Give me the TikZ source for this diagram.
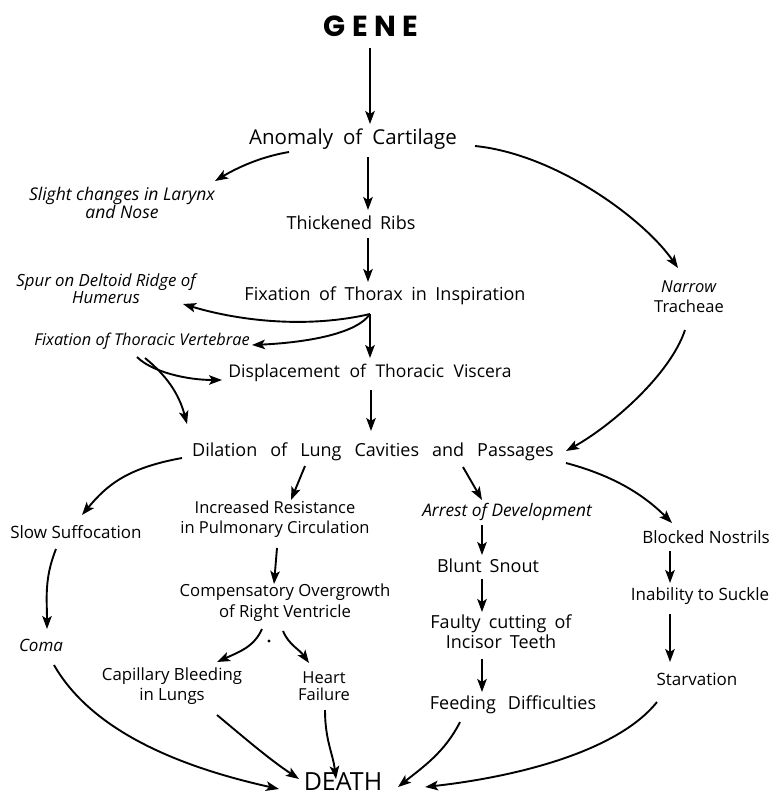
\documentclass[tikz,border=0pt]{standalone}
\usepackage{fontspec}
\setmainfont{Open Sans}
\newfontfamily\genefont{Poppins}
\usetikzlibrary{arrows.meta}
\begin{document}
\begin{tikzpicture}[x=1pt,y=-1pt,
 lab/.style={inner sep=0pt, align=center},
 sz/.style 2 args={font={\fontsize{#1}{20}\selectfont\spaceskip=#2pt plus 2pt minus 1pt\relax}},
 nsz/.style={font={\fontsize{#1}{20}\selectfont}},
 it/.style={font={\fontsize{#1}{17}\selectfont\itshape}},
 arr/.style={line width=1.9pt, -{Stealth[length=13pt,width=9.5pt,inset=3pt]}}]
\useasboundingbox (0,0) rectangle (775,796);
\fill[white] (0,0) rectangle (775,796);

% nodes
\node[inner sep=0pt, font={\genefont\fontsize{29}{34}\selectfont\bfseries\addfontfeature{LetterSpace=22}}] (gene) at (371,26) {GENE};
\node[lab,sz={20.5}{10}] (anom) at (353,139) {Anomaly of Cartilage};
\node[lab,it=17.5] (slight) at (122,203) {Slight changes in Larynx\\and Nose};
\node[lab,sz={18}{8}] (thick) at (351,223) {Thickened Ribs};
\node[lab,sz={18}{8.5}] (fixT) at (385,296) {Fixation of Thorax in Inspiration};
\node[lab,it=16.8] (spur) at (106,289) {Spur on Deltoid Ridge of\\Humerus};
\node[lab,nsz=16.5] (narrow) at (689,297) {\textit{Narrow}\\Tracheae};
\node[lab,it=16.3] (vert) at (142,341) {Fixation of Thoracic Vertebrae};
\node[lab,sz={17.5}{9.5}] (disp) at (370,373) {Displacement of Thoracic Viscera};
\node[lab,sz={18}{13}] (dil) at (373,452) {Dilation of Lung Cavities and Passages};
\node[lab,nsz=17] (slow) at (76,532) {Slow Suffocation};
\node[lab,nsz=16.5] (incr) at (275,519) {Increased Resistance\\in Pulmonary Circulation};
\node[lab,it=17.3] (arrest) at (507,512) {Arrest of Development};
\node[lab,nsz=17] (blocked) at (706,537) {Blocked Nostrils};
\node[lab,sz={18}{8}] (blunt) at (488,566) {Blunt Snout};
\node[lab,nsz=16.7] (comp) at (285,603) {Compensatory Overgrowth\\[1pt]of Right Ventricle};
\node[lab,nsz=17] (inab) at (700,596) {Inability to Suckle};
\node[lab,sz={18}{8}] (faulty) at (501,632) {Faulty cutting of\\Incisor Teeth};
\node[lab,it=17] (coma) at (41,645) {Coma};
\node[lab,nsz=16.8] (cap) at (172,686) {Capillary Bleeding\\in Lungs};
\node[lab,font={\fontsize{16.5}{17}\selectfont}] (heart) at (324,686) {Heart\\Failure};
\node[lab,nsz=17] (starv) at (697,679) {Starvation};
\node[lab,sz={18}{12}] (feed) at (513,705) {Feeding Difficulties};
\node[inner sep=0pt, font={\fontsize{25}{28}\selectfont}] (death) at (343,782) {DEATH};

% connectors
\draw[arr] ([shift={(-1,22)}]gene.center) -- ([shift={(17,-15)}]anom.center);
\draw[arr] ([shift={(-64,13)}]anom.center) .. controls +(-30,5) and +(20,-12) .. ([shift={(93,-22)}]slight.center);
\draw[arr] ([shift={(15,18)}]anom.center) -- ([shift={(17,-13)}]thick.center);
\draw[arr] ([shift={(17,15)}]thick.center) -- ([shift={(-17,-14)}]fixT.center);
\draw[arr] ([shift={(122,7)}]anom.center) .. controls +(80,8) and +(-35,-50) .. ([shift={(-11,-29)}]narrow.center);
\draw[arr] ([shift={(-15,18)}]fixT.center) .. controls +(-60,14) and +(60,18) .. ([shift={(77,15)}]spur.center);
\draw[arr] ([shift={(-15,18)}]fixT.center) .. controls +(-15,22) and +(45,-2) .. ([shift={(110,4)}]vert.center);
\draw[arr] ([shift={(-15,18)}]fixT.center) -- ([shift={(0,-15)}]disp.center);
\draw[arr] ([shift={(-5,16)}]vert.center) .. controls +(15,15) and +(-35,0) .. ([shift={(-148,7)}]disp.center);
\draw[arr] ([shift={(3,17)}]vert.center) .. controls +(22,18) and +(-8,-30) .. ([shift={(-186,-28)}]dil.center);
\draw[arr] ([shift={(1,17)}]disp.center) -- ([shift={(-2,-21)}]dil.center);
\draw[arr] ([shift={(-4,33)}]narrow.center) .. controls +(-15,45) and +(45,-25) .. ([shift={(193,-1)}]dil.center);
\draw[arr] ([shift={(-191,6)}]dil.center) .. controls +(-55,10) and +(25,-30) .. ([shift={(6,-17)}]slow.center);
\draw[arr] ([shift={(-68,14)}]dil.center) -- ([shift={(16,-19)}]incr.center);
\draw[arr] ([shift={(90,15)}]dil.center) -- ([shift={(-25,-12)}]arrest.center);
\draw[arr] ([shift={(193,11)}]dil.center) .. controls +(45,12) and +(-30,-30) .. ([shift={(-34,-14)}]blocked.center);
\draw[arr] ([shift={(-20,17)}]slow.center) .. controls +(-12,30) and +(0,-30) .. ([shift={(6,-16)}]coma.center);
\draw[arr] ([shift={(2,29)}]incr.center) -- ([shift={(-11,-19)}]comp.center);
\draw[arr] ([shift={(-25,13)}]arrest.center) -- ([shift={(-6,-11)}]blunt.center);
\draw[arr] ([shift={(-36,14)}]blocked.center) -- ([shift={(-30,-13)}]inab.center);
\draw[arr] ([shift={(-6,13)}]blunt.center) -- ([shift={(-19,-20)}]faulty.center);
\draw[arr] ([shift={(-23,26)}]comp.center) .. controls +(-8,18) and +(22,-10) .. ([shift={(45,-24)}]cap.center);
\draw[arr] ([shift={(-2,28)}]comp.center) .. controls +(6,14) and +(-10,-14) .. ([shift={(-15,-23)}]heart.center);
\draw[arr] ([shift={(-30,18)}]inab.center) -- ([shift={(-27,-17)}]starv.center);
\draw[arr] ([shift={(-19,27)}]faulty.center) -- ([shift={(-31,-13)}]feed.center);
\draw[arr] ([shift={(13,20)}]coma.center) .. controls +(40,70) and +(-90,-20) .. ([shift={(-64,7)}]death.center);
\draw[arr] ([shift={(45,29)}]cap.center) .. controls +(30,25) and +(-30,-20) .. ([shift={(-44,-3)}]death.center);
\draw[arr] ([shift={(1,24)}]heart.center) .. controls +(0,30) and +(-3,-25) .. ([shift={(-7,-3)}]death.center);
\draw[arr] ([shift={(-53,17)}]feed.center) .. controls +(-15,30) and +(25,-20) .. ([shift={(55,5)}]death.center);
\draw[arr] ([shift={(-40,23)}]starv.center) .. controls +(-40,50) and +(90,-10) .. ([shift={(82,5)}]death.center);
\fill (269,641) circle (1.6);
\end{tikzpicture}
\end{document}
